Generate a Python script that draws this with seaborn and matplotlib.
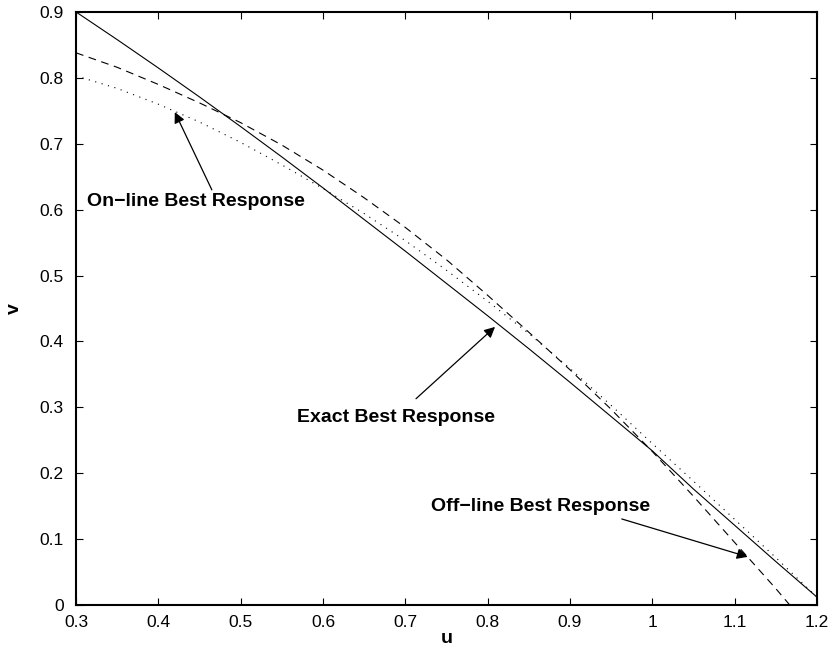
import numpy as np
import pandas as pd
import matplotlib
matplotlib.use("Agg")
import matplotlib.pyplot as plt
import seaborn as sns

# data
u_grid = [0.30, 0.35, 0.40, 0.45, 0.50, 0.55, 0.60, 0.65, 0.70, 0.75,
          0.80, 0.85, 0.90, 0.95, 1.00, 1.05, 1.10, 1.15, 1.20]
v_exact = [0.900, 0.858, 0.815, 0.771, 0.726, 0.680, 0.633, 0.585, 0.537, 0.488,
           0.439, 0.389, 0.338, 0.286, 0.234, 0.176, 0.121, 0.066, 0.012]
v_online = [0.803, 0.784, 0.760, 0.733, 0.702, 0.668, 0.632, 0.594, 0.553, 0.508,
            0.461, 0.412, 0.359, 0.303, 0.245, 0.188, 0.130, 0.072, 0.012]
u_offline = [0.30, 0.35, 0.40, 0.45, 0.50, 0.55, 0.60, 0.65, 0.70, 0.75,
             0.80, 0.85, 0.90, 0.95, 1.00, 1.05, 1.10, 1.15, 1.167]
v_offline = [0.838, 0.816, 0.790, 0.762, 0.732, 0.698, 0.660, 0.618, 0.573, 0.524,
             0.470, 0.414, 0.357, 0.297, 0.233, 0.165, 0.095, 0.025, 0.000]

x_ticklabels = ['0.3', '0.4', '0.5', '0.6', '0.7', '0.8', '0.9', '1', '1.1', '1.2']
y_ticklabels = ['0', '0.1', '0.2', '0.3', '0.4', '0.5', '0.6', '0.7', '0.8', '0.9']

df = pd.concat([
    pd.DataFrame({'u': u_grid, 'v': v_exact, 'curve': 'Exact'}),
    pd.DataFrame({'u': u_grid, 'v': v_online, 'curve': 'On-line'}),
    pd.DataFrame({'u': u_offline, 'v': v_offline, 'curve': 'Off-line'}),
])

sns.set_style("ticks")
plt.rcParams['font.family'] = ['Liberation Sans', 'DejaVu Sans']
plt.rcParams['text.color'] = 'black'
plt.rcParams['axes.labelcolor'] = 'black'

fig = plt.figure(figsize=(8.31, 6.54), dpi=100)
ax = fig.add_axes([0.0915, 0.075, 0.8915, 0.9067])

sns.lineplot(data=df, x='u', y='v', hue='curve', style='curve',
             palette={'Exact': 'black', 'On-line': 'black', 'Off-line': 'black'},
             dashes={'Exact': '', 'On-line': (1, 5), 'Off-line': (7, 5)},
             linewidth=0.8, sort=False, legend=False, ax=ax)

ax.set_xlim(0.3, 1.2)
ax.set_ylim(0, 0.9)
ax.set_xticks(np.arange(0.3, 1.21, 0.1))
ax.set_yticks(np.arange(0, 0.91, 0.1))
ax.set_xticklabels(x_ticklabels)
ax.set_yticklabels(y_ticklabels)
ax.tick_params(direction='in', length=5, width=0.8, top=True, right=True,
               labelsize=12.5, colors='black')
ax.tick_params(axis='x', pad=7)
ax.tick_params(axis='y', pad=9)
for s in ax.spines.values():
    s.set_visible(True)
    s.set_linewidth(1.5)
    s.set_color('black')

ax.set_xlabel('u', fontsize=14, fontweight='bold', labelpad=0)
ax.set_ylabel('v', fontsize=14, fontweight='bold', labelpad=12)

# arrows (tip, tail) and labels
arrow = dict(arrowstyle='-|>', color='black', lw=0.9, mutation_scale=16, shrinkA=0, shrinkB=0)
ax.annotate('', xy=(0.42, 0.748), xytext=(0.465, 0.630), arrowprops=arrow)
ax.annotate('', xy=(0.809, 0.422), xytext=(0.713, 0.313), arrowprops=arrow)
ax.annotate('', xy=(1.116, 0.073), xytext=(0.963, 0.1305), arrowprops=arrow)

label_kw = dict(fontsize=14, fontweight='bold', ha='center', va='baseline', color='black')
ax.text(0.4457, 0.6056, 'On\u2212line Best Response', **label_kw)
ax.text(0.6886, 0.2777, 'Exact Best Response', **label_kw)
ax.text(0.8647, 0.1427, 'Off\u2212line Best Response', **label_kw)

fig.savefig('out.png', dpi=100)
